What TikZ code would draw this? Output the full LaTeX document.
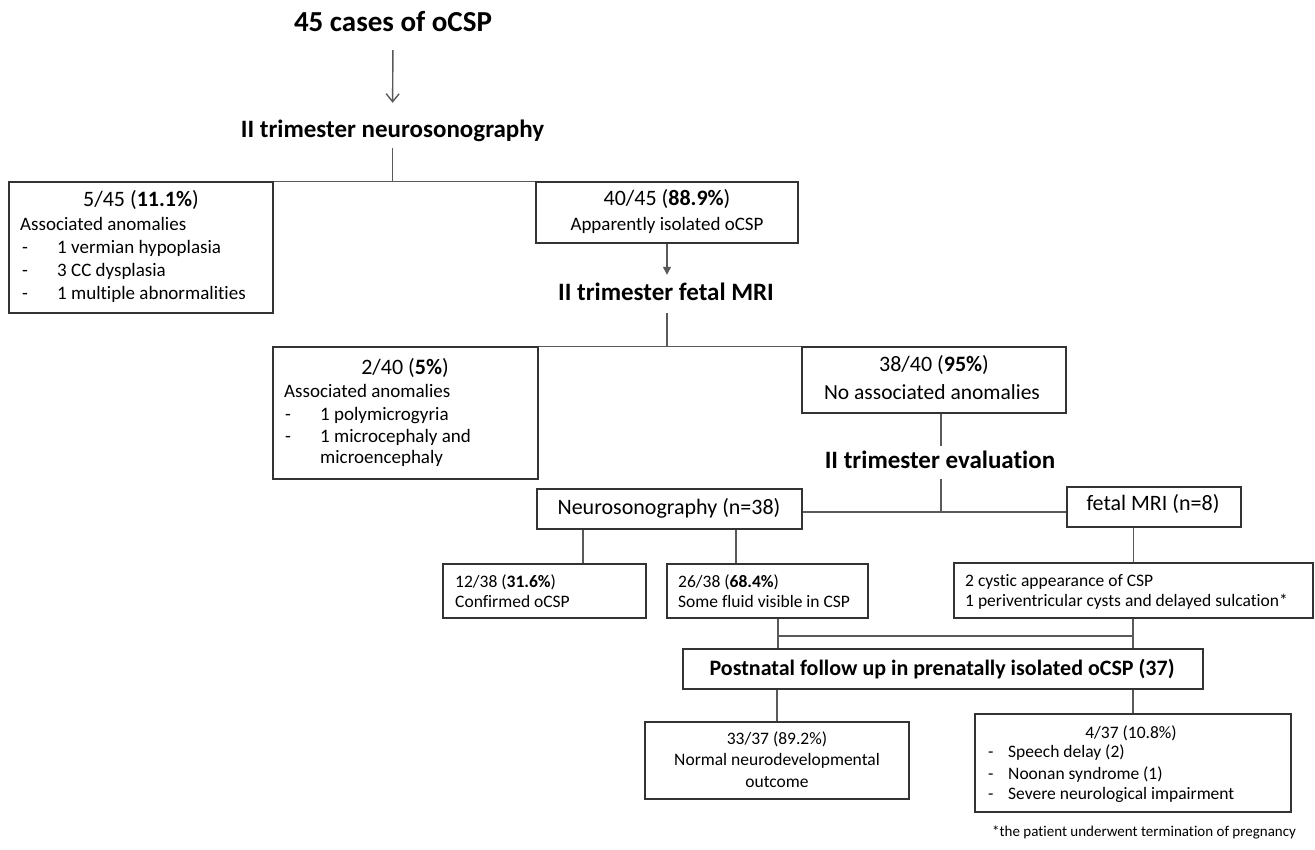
\documentclass[tikz,border=0pt]{standalone}
\usepackage{fontspec}
\setmainfont[Ligatures={NoCommon}]{Carlito}
\usetikzlibrary{arrows.meta,fit}
\tikzset{
  box/.style={draw=black!80, line width=1.3pt, inner sep=0pt},
  conn/.style={draw=black!65, line width=1.4pt},
  hdbig/.style={anchor=base, inner sep=0pt, font=\bfseries\fontsize{29}{34}\selectfont, text height=20.3pt, text depth=7.2pt},
  hd/.style={anchor=base, inner sep=0pt, font=\bfseries\fontsize{25}{30}\selectfont, text height=17.5pt, text depth=6.25pt},
  tc/.style={anchor=base, inner sep=0pt},
  tl/.style={anchor=base west, inner sep=0pt},
  fa/.style={font=\fontsize{22}{26}\selectfont},
  fb/.style={font=\fontsize{19}{23}\selectfont},
  fc/.style={font=\fontsize{17.5}{21}\selectfont},
  fd/.style={font=\fontsize{15}{18}\selectfont},
}
\begin{document}
\begin{tikzpicture}[x=1pt,y=-1pt, text=black]
\useasboundingbox (0,0) rectangle (1315,850);

% headings
\node[hdbig] (t0) at (393,31.7) {45 cases of oCSP};
\node[hd] (t1) at (392.5,137.5) {II trimester neurosonography};
\node[hd] (t2) at (666,300.5) {II trimester fetal MRI};
\node[hd] (t3) at (940,468.5) {II trimester evaluation};

% boxes
\node[box, fit={(9,182)(273,313)}] (b1) {};
\node[box, fit={(536,182)(798,243)}] (b2) {};
\node[box, fit={(273,347)(538,479)}] (b3) {};
\node[box, fit={(802,347)(1066,413)}] (b4) {};
\node[box, fit={(537,489)(802,529)}] (b5) {};
\node[box, fit={(1067,487)(1241,527)}] (b6) {};
\node[box, fit={(443,564)(646,618)}] (b7) {};
\node[box, fit={(667,564)(868,618)}] (b8) {};
\node[box, fit={(954,563)(1313,618)}] (b9) {};
\node[box, fit={(683,649)(1203,689)}] (b10) {};
\node[box, fit={(645,722)(909,799)}] (b11) {};
\node[box, fit={(975,714)(1291,812)}] (b12) {};

% box 1 text
\node[tc, fa] (b1a) at (141,206.6) {5/45 (\textbf{11.1\%})};
\node[tl, fb] (b1b) at (20,230.7) {Associated anomalies};
\node[tl, fb] (b1c) at (22,253.7) {-};
\node[tl, fb] (b1d) at (57,253.7) {1 vermian hypoplasia};
\node[tl, fb] (b1e) at (22,276.7) {-};
\node[tl, fb] (b1f) at (57,276.7) {3 CC dysplasia};
\node[tl, fb] (b1g) at (22,299.7) {-};
\node[tl, fb] (b1h) at (57,299.7) {1 multiple abnormalities};

% box 2 text
\node[tc, fa] (b2a) at (667,205.6) {40/45 (\textbf{88.9\%})};
\node[tc, fb] (b2b) at (667,230.7) {Apparently isolated oCSP};

% box 3 text
\node[tc, fa] (b3a) at (405,374.6) {2/40 (\textbf{5\%})};
\node[tl, fb] (b3b) at (284,397.7) {Associated anomalies};
\node[tl, fb] (b3c) at (285,420.7) {-};
\node[tl, fb] (b3d) at (320,420.7) {1 polymicrogyria};
\node[tl, fb] (b3e) at (285,442.7) {-};
\node[tl, fb] (b3f) at (320,442.7) {1 microcephaly and};
\node[tl, fb] (b3g) at (320,463.7) {microencephaly};

% box 4 text
\node[tc, fa] (b4a) at (934,371.6) {38/40 (\textbf{95\%})};
\node[tc, font=\fontsize{21.5}{26}\selectfont] (b4b) at (932,399.5) {No associated anomalies};

% box 5, 6 text
\node[tc, fa] (b5a) at (669,514.6) {Neurosonography (n=38)};
\node[tc, fa] (b6a) at (1153,510.6) {fetal MRI (n=8)};

% box 7, 8, 9 text
\node[tl, fc] (b7a) at (455,587.3) {12/38 (\textbf{31.6\%})};
\node[tl, fc] (b7b) at (455,607.3) {Confirmed oCSP};
\node[tl, fc] (b8a) at (678,587.3) {26/38 (\textbf{68.4\%})};
\node[tl, fc] (b8b) at (678,607.3) {Some fluid visible in CSP};
\node[tl, fc] (b9a) at (965,586.3) {2 cystic appearance of CSP};
\node[tl, fc] (b9b) at (965,606.3) {1 periventricular cysts and delayed sulcation*};

% box 10 text
\node[tc, font=\bfseries\fontsize{22}{26}\selectfont] (b10a) at (942,675.6) {Postnatal follow up in prenatally isolated oCSP (37)};

% box 11 text
\node[tc, fc] (b11a) at (777,744.3) {33/37 (89.2\%)};
\node[tc, fc] (b11b) at (777,765.3) {Normal neurodevelopmental};
\node[tc, fc] (b11c) at (777,787.3) {outcome};

% box 12 text
\node[tc, fc] (b12a) at (1131,738.3) {4/37 (10.8\%)};
\node[tl, fc] (b12b) at (988,757.3) {-};
\node[tl, fc] (b12c) at (1008,757.3) {Speech delay (2)};
\node[tl, fc] (b12d) at (988,779.3) {-};
\node[tl, fc] (b12e) at (1008,779.3) {Noonan syndrome (1)};
\node[tl, fc] (b12f) at (988,799.3) {-};
\node[tl, fc] (b12g) at (1008,799.3) {Severe neurological impairment};

% footnote
\node[tl, fd] (fn) at (992,836.5) {*the patient underwent termination of pregnancy};

% helper coordinates
\coordinate (j3) at (941,512);
\coordinate (x7) at (583,0);
\coordinate (x8) at (736,0);
\coordinate (xl) at (778,636);
\coordinate (xr) at (1133,636);

% connectors
\draw[conn, -{Straight Barb[length=8pt,width=13pt]}, shorten <=11pt, shorten >=17pt] (t0.south) -- (t1.north);
\draw[conn, shorten <=4pt] (t1.south) -- (t1.south |- b1.north);
\draw[conn] (b1.north east) -- (b2.north west);
\draw[conn, -{Triangle[length=8pt,width=8pt]}, shorten >=8pt] (b2.south) -- (b2.south |- t2.north);
\draw[conn, shorten <=6pt] (t2.south -| b2.south) -- (b2.south |- b4.north);
\draw[conn] (b3.north east) -- (b4.north west);
\draw[conn, shorten >=5pt] (b4.south -| j3) -- (t3.north -| j3);
\draw[conn, shorten <=4pt] (t3.south -| j3) -- (j3);
\draw[conn] (b5.east |- j3) -- (b6.west |- j3);
\draw[conn] (b5.south -| x7) -- (b7.north -| x7);
\draw[conn] (b5.south -| x8) -- (b8.north -| x8);
\draw[conn] (b6.south -| b9.north) -- (b9.north);
\draw[conn] (b8.south -| xl) -- (b10.north -| xl);
\draw[conn] (b9.south -| xr) -- (b10.north -| xr);
\draw[conn] (xl) -- (xr);
\draw[conn] (b10.south -| b11.north) -- (b11.north);
\draw[conn] (b10.south -| b12.north) -- (b12.north);
\end{tikzpicture}
\end{document}
